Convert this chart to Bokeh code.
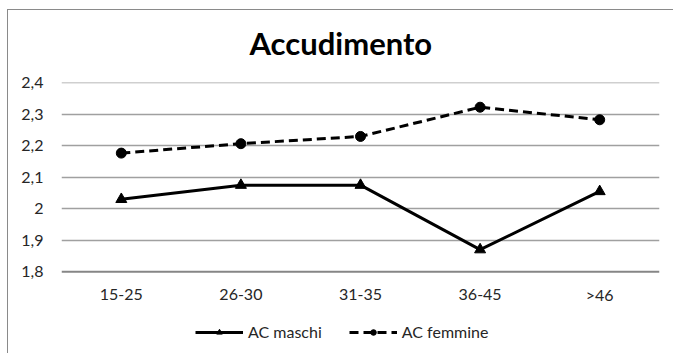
from bokeh.plotting import figure
from bokeh.models import FactorRange, Range1d, Legend, LegendItem, Title, FixedTicker, InlineStyleSheet, Span
from bokeh.core.properties import value
from bokeh.embed import file_html
from bokeh.resources import INLINE

categories = ["15-25", "26-30", "31-35", "36-45", ">46"]
maschi = [2.03, 2.075, 2.075, 1.87, 2.055]
femmine = [2.177, 2.207, 2.23, 2.323, 2.283]
y_ticks = [1.8, 1.9, 2.0, 2.1, 2.2, 2.3, 2.4]
y_tick_labels = ["1,8", "1,9", "2", "2,1", "2,2", "2,3", "2,4"]
title_text = "Accudimento"
series_names = ["AC maschi", "AC femmine"]

FONT = "Lato"
LABEL_SIZE = "16px"
TEXT_COLOR = "#262626"

# pixel plan: value axis 1.8 -> 271px, 2.4 -> 82px; frame runs on down to 350px
W, H = 673, 353
top_px, axis_px, frame_bottom_px = 82, 271, 350
per_px = (y_ticks[-1] - y_ticks[0]) / (axis_px - top_px)
y_start = y_ticks[0] - (frame_bottom_px - axis_px) * per_px
y_end = y_ticks[-1] + 0.5 * per_px
label_y = y_ticks[0] - 23 * per_px

p = figure(width=W, height=H, x_range=FactorRange(*categories),
           y_range=Range1d(y_start, y_end), output_backend="svg", toolbar_location=None,
           min_border_left=61, min_border_right=14, min_border_top=top_px,
           min_border_bottom=H - frame_bottom_px)
p.outline_line_color = None
p.background_fill_color = "white"
p.border_fill_color = "white"

p.stylesheets = [InlineStyleSheet(css=":host::after{content:'';position:absolute;left:7px;top:9px;"
                                      "width:720px;height:400px;border:1.5px solid #8a8a8a;"
                                      "pointer-events:none;box-sizing:border-box;}")]

p.yaxis.ticker = FixedTicker(ticks=y_ticks)
p.yaxis.major_label_overrides = {t: l for t, l in zip(y_ticks, y_tick_labels)}
p.yaxis.axis_line_color = None
p.yaxis.major_tick_line_color = None
p.yaxis.minor_tick_line_color = None
p.yaxis.major_tick_out = 0
p.yaxis.major_label_standoff = 18
p.yaxis.major_label_text_font = FONT
p.yaxis.major_label_text_font_size = LABEL_SIZE
p.yaxis.major_label_text_color = TEXT_COLOR

p.xaxis.visible = False
p.xgrid.grid_line_color = None
p.ygrid.ticker = FixedTicker(ticks=y_ticks[1:])
p.ygrid.grid_line_color = "#a0a0a0"
p.ygrid.grid_line_width = 1.5

# category axis line and labels
p.add_layout(Span(location=y_ticks[0], dimension="width", line_color="#868686", line_width=2))
p.text(x=categories, y=[label_y] * len(categories), text=categories,
       text_font=value(FONT), text_font_size=LABEL_SIZE, text_color=TEXT_COLOR,
       text_align="center", text_baseline="middle")

lm = p.line(categories, maschi, line_color="black", line_width=3)
tm = p.scatter(categories, maschi, marker="triangle", size=11, color="black")
lf = p.line(categories, femmine, line_color="black", line_width=3, line_dash="9 5")
cf = p.scatter(categories, femmine, marker="circle", size=10, color="black")

legend = Legend(items=[LegendItem(label=series_names[0], renderers=[lm, tm]),
                       LegendItem(label=series_names[1], renderers=[lf, cf])],
                orientation="horizontal", location=(134, 9),
                label_text_font=FONT, label_text_font_size=LABEL_SIZE, label_text_color=TEXT_COLOR,
                glyph_width=48, glyph_height=14, spacing=27, label_standoff=5,
                background_fill_alpha=0, border_line_color=None, padding=0, margin=0)
p.add_layout(legend, "center")

p.add_layout(Title(text=title_text, align="left", offset=188, standoff=41,
                   text_font=FONT, text_font_style="bold", text_font_size="31px",
                   text_color="black"), "above")

open("out.html", "w").write(file_html(p, INLINE))
